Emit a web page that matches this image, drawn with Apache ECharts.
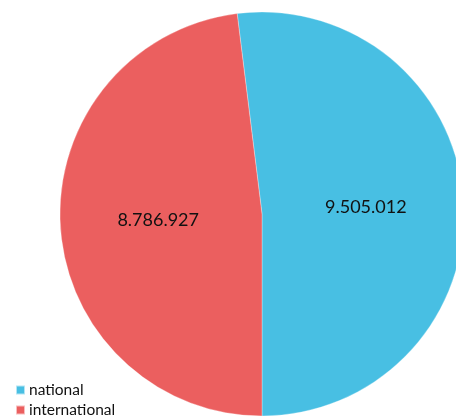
<!DOCTYPE html>
<html><head><meta charset="utf-8">
<script src="https://cdn.jsdelivr.net/npm/echarts@6/dist/echarts.min.js"></script>
<style>html,body{margin:0;padding:0;background:#fff}#c{width:456px;height:419px}</style>
</head><body><div id="c"></div>
<script>
const categories = ['national', 'international'];
const values = [9505012, 8786927];
const labels = ['9.505.012', '8.786.927'];
const colors = ['#48BFE3', '#EB5F5F'];

const chart = echarts.init(document.getElementById('c'), null, {renderer: 'canvas'});
chart.setOption({
  animation: false,
  color: colors,
  legend: {
    orient: 'vertical', left: 13, top: 379, height: 100,
    padding: 2,
    itemWidth: 9, itemHeight: 9, itemGap: 2,
    icon: 'rect',
    textStyle: {fontFamily: 'Lato', fontSize: 15.5, lineHeight: 18, color: '#111', padding: [0,0,0,-1]},
    data: categories
  },
  series: [{
    type: 'pie',
    center: [262, 214],
    radius: 202,
    clockwise: false,
    startAngle: -90,
    data: categories.map((c, i) => ({name: c, value: values[i]})),
    itemStyle: {borderColor: 'rgba(255,255,255,0.6)', borderWidth: 0.5},
    label: {
      position: 'inside',
      formatter: p => labels[p.dataIndex],
      fontFamily: 'Lato', fontSize: 18, color: '#111'
    },
    labelLine: {show: false},
    emphasis: {disabled: true}
  }]
});
</script></body></html>
